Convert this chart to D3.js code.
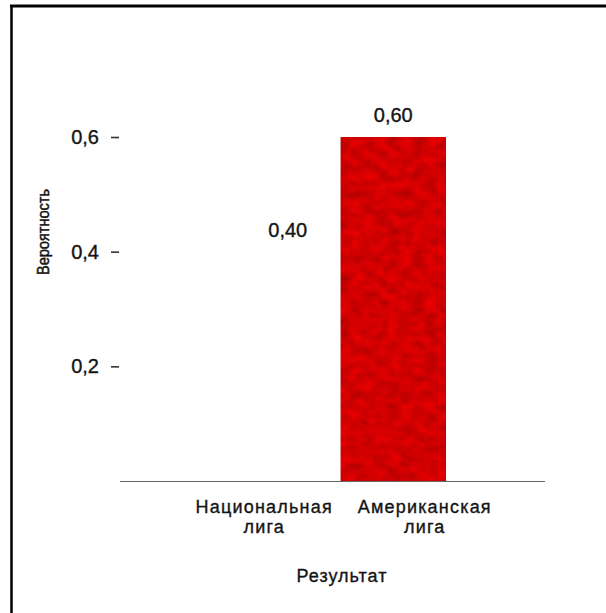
<!DOCTYPE html>
<html>
<head>
<meta charset="utf-8">
<script src="https://cdn.jsdelivr.net/npm/d3@7"></script>
<style>
  html, body { margin: 0; padding: 0; background: #fff; }
  svg { display: block; }
  text { font-family: "Liberation Sans", Arial, Helvetica, sans-serif; fill: #141414; stroke: #141414; stroke-width: 0.35px; }
</style>
</head>
<body>
<svg id="chart" width="606" height="613"></svg>
<script>
// Probability of each outcome
const outcomes = ["Национальная лига", "Американская лига"];
const probabilities = [0.40, 0.60];
const valueLabels = ["0,40", "0,60"];
const yTicks = [0.2, 0.4, 0.6];
const yTickLabels = ["0,2", "0,4", "0,6"];
const barFills = ["#ffffff", "#d80c16"];

const svg = d3.select("#chart");

// Texture for the filled bar: mottled red
const defs = svg.append("defs");
const f = defs.append("filter").attr("id", "mottle")
  .attr("x", 0).attr("y", 0).attr("width", 1).attr("height", 1);
f.append("feTurbulence").attr("type", "fractalNoise")
  .attr("baseFrequency", "0.08 0.11").attr("numOctaves", 2).attr("seed", 3).attr("result", "noise");
f.append("feColorMatrix").attr("in", "noise").attr("type", "matrix")
  .attr("values", "0.9 0 0 0 -0.08  0 0 0 0 0  0 0 0 0 0.03  0 0 0 0 1").attr("result", "tint");
f.append("feComposite").attr("in", "tint").attr("in2", "SourceGraphic")
  .attr("operator", "arithmetic").attr("k1", 0).attr("k2", 0.6).attr("k3", 0.78).attr("k4", -0.12)
  .attr("result", "mix");
f.append("feComposite").attr("in", "mix").attr("in2", "SourceGraphic").attr("operator", "in");

// Frame
svg.append("line").attr("x1", 10).attr("x2", 606).attr("y1", 6).attr("y2", 6)
  .attr("stroke", "#000").attr("stroke-width", 3);
svg.append("line").attr("x1", 11.5).attr("x2", 11.5).attr("y1", 5).attr("y2", 613)
  .attr("stroke", "#000").attr("stroke-width", 2.5);

// Scales
const y = d3.scaleLinear().domain([0, 0.6]).range([481, 137]);
const xBar = d3.scaleBand().domain(outcomes).range([235, 446]).padding(0);
const xLab = d3.scaleBand().domain(outcomes).range([184, 505]).padding(0);

// Y axis: tick dashes and labels, no axis line
const yAxis = d3.axisLeft(y).tickValues(yTicks)
  .tickFormat((d, i) => yTickLabels[i]).tickSize(8).tickPadding(12);
const gy = svg.append("g").attr("transform", "translate(119,0)").call(yAxis);
gy.select(".domain").remove();
gy.selectAll(".tick line").attr("stroke", "#333").attr("stroke-width", 1.6);
gy.selectAll(".tick text").attr("font-size", 20).attr("fill", "#1c1c1c")
  .attr("font-family", "'Liberation Sans', Arial, sans-serif");

// Bars
svg.append("g").selectAll("rect").data(probabilities).join("rect")
  .attr("x", (d, i) => xBar(outcomes[i]))
  .attr("width", xBar.bandwidth())
  .attr("y", d => y(d))
  .attr("height", d => y(0) - y(d))
  .attr("fill", (d, i) => barFills[i])
  .attr("filter", (d, i) => i === 1 ? "url(#mottle)" : null);

// Baseline
svg.append("line").attr("x1", 120).attr("x2", 545).attr("y1", y(0) + 0.5).attr("y2", y(0) + 0.5)
  .attr("stroke", "#666").attr("stroke-width", 1.2);

// Value labels
svg.append("g").selectAll("text").data(probabilities).join("text")
  .attr("x", (d, i) => xBar(outcomes[i]) + xBar.bandwidth() / 2)
  .attr("y", d => y(d) - 15)
  .attr("text-anchor", "middle")
  .attr("font-size", 20)
  .text((d, i) => valueLabels[i]);

// Category labels (two lines each)
const cat = svg.append("g").selectAll("text").data(outcomes).join("text")
  .attr("text-anchor", "middle")
  .attr("font-size", 18)
  .attr("letter-spacing", 1.2);
cat.each(function(d) {
  const parts = d.split(" ");
  const cx = xLab(d) + xLab.bandwidth() / 2;
  d3.select(this).selectAll("tspan").data(parts).join("tspan")
    .attr("x", cx)
    .attr("y", (p, j) => 513 + j * 20)
    .text(p => p);
});

// Axis titles
svg.append("text").attr("x", 342).attr("y", 582).attr("text-anchor", "middle")
  .attr("font-size", 18).attr("letter-spacing", 1).text("Результат");
svg.append("text").attr("transform", "translate(49,232) rotate(-90)")
  .attr("text-anchor", "middle").attr("font-size", 17)
  .attr("textLength", 86).attr("lengthAdjust", "spacingAndGlyphs")
  .style("stroke-width", "0.5px")
  .text("Вероятность");
</script>
</body>
</html>
